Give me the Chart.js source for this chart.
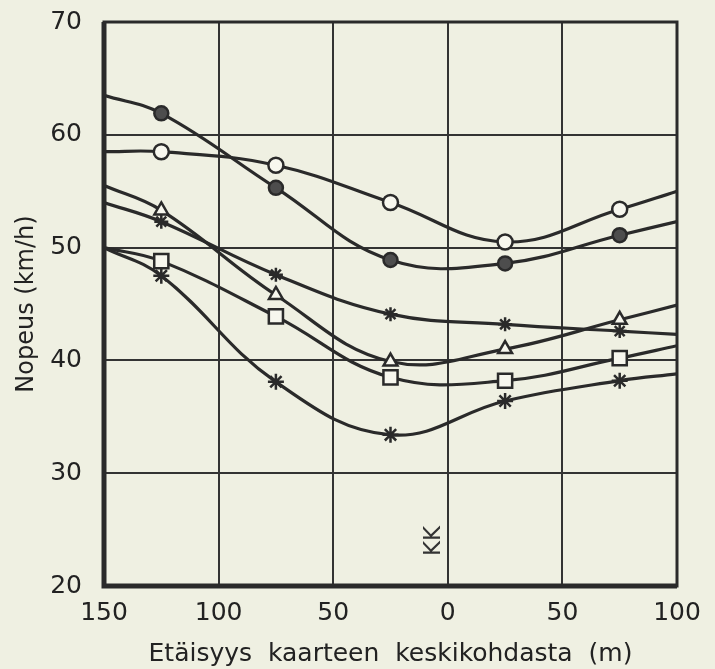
<!DOCTYPE html>
<html>
<head>
<meta charset="utf-8">
<script src="https://cdn.jsdelivr.net/npm/chart.js@4.4.1/dist/chart.umd.min.js"></script>
<style>
  html, body { margin: 0; padding: 0; background: #eff0e2; }
  #wrap { width: 715px; height: 669px; }
</style>
</head>
<body>
<div id="wrap"><canvas id="nopeus-canvas"></canvas></div>
<script>
// Nopeus kaarteen eri kohdissa — etäisyys kaarteen keskikohdasta (m)
// negatiivinen = ennen keskikohtaa, positiivinen = jälkeen

const distances = [-150, -125, -75, -25, 25, 75, 100];
const xTickValues = [-150, -100, -50, 0, 50, 100];
const xTickLabels = ['150', '100', '50', '0', '50', '100'];
const yTickValues = [20, 30, 40, 50, 60, 70];

// sarjat (ensimmäinen ja viimeinen arvo = viivan pää ilman merkkiä)
const filledCircle = [63.5, 61.9, 55.3, 48.9, 48.6, 51.1, 52.3];
const openCircle   = [58.5, 58.5, 57.3, 54.0, 50.5, 53.4, 55.0];
const triangle     = [55.5, 53.3, 45.8, 39.9, 41.0, 43.6, 44.9];
const upperStar    = [54.0, 52.3, 47.6, 44.1, 43.2, 42.6, 42.3];
const square       = [50.0, 48.8, 43.9, 38.5, 38.2, 40.2, 41.3];
const lowerStar    = [50.0, 47.5, 38.1, 33.4, 36.4, 38.2, 38.8];

const KK = { label: 'KK', x: -6, y: 24.0 };

const INK = '#2a2a2a';
const PAPER = '#eff0e2';

function _points(values) {
  return values.map((v, i) => ({ x: distances[i], y: v }));
}
function _radius(r) {
  return distances.map((d, i) => (i === 0 || i === distances.length - 1) ? 0 : r);
}
function _series(values, style, r, fill) {
  return {
    data: _points(values),
    borderColor: INK,
    borderWidth: 3.2,
    tension: 0.4,
    pointStyle: style,
    pointRadius: _radius(r),
    pointBorderWidth: 2.5,
    pointBorderColor: INK,
    pointBackgroundColor: fill
  };
}

// kehys ja KK-teksti
const framePlugin = {
  id: 'frame',
  afterDraw(chart) {
    const { ctx, chartArea: a, scales } = chart;
    ctx.save();
    ctx.strokeStyle = INK;
    ctx.lineWidth = 3;
    ctx.strokeRect(a.left, a.top, a.right - a.left, a.bottom - a.top);
    ctx.lineWidth = 5;
    ctx.beginPath();
    ctx.moveTo(a.left, a.top);
    ctx.lineTo(a.left, a.bottom);
    ctx.lineTo(a.right, a.bottom);
    ctx.stroke();
    const px = scales.x.getPixelForValue(KK.x);
    const py = scales.y.getPixelForValue(KK.y);
    ctx.translate(px, py);
    ctx.rotate(-Math.PI / 2);
    ctx.fillStyle = '#333';
    ctx.font = '23px "DejaVu Sans"';
    ctx.textAlign = 'center';
    ctx.textBaseline = 'middle';
    ctx.fillText(KK.label, 0, 0);
    ctx.restore();
  }
};

const bgPlugin = {
  id: 'bg',
  beforeDraw(chart) {
    const { ctx, width, height } = chart;
    ctx.save();
    ctx.fillStyle = PAPER;
    ctx.fillRect(0, 0, width, height);
    ctx.restore();
  }
};

new Chart(document.getElementById('nopeus-canvas'), {
  type: 'line',
  data: {
    datasets: [
      _series(filledCircle, 'circle', 7, '#4d4d4d'),
      _series(openCircle, 'circle', 7.5, '#f7f7ee'),
      _series(triangle, 'triangle', 8, '#f7f7ee'),
      _series(upperStar, 'star', 7, INK),
      _series(square, 'rect', 10, '#f7f7ee'),
      _series(lowerStar, 'star', 8, INK)
    ]
  },
  options: {
    responsive: true,
    maintainAspectRatio: false,
    animation: false,
    layout: { padding: { top: 22, right: 38, left: 0, bottom: 0 } },
    plugins: { legend: { display: false }, tooltip: { enabled: false } },
    scales: {
      x: {
        type: 'linear',
        min: -150, max: 100,
        afterFit: s => { s.height = 83; s.paddingLeft = 0; s.paddingRight = 0; },
        afterBuildTicks: s => { s.ticks = xTickValues.map(v => ({ value: v })); },
        grid: { color: '#333', lineWidth: 2, drawTicks: false },
        border: { display: false },
        ticks: {
          padding: 12,
          color: '#222',
          font: { family: 'DejaVu Sans', size: 25 },
          maxRotation: 0,
          callback: v => xTickLabels[xTickValues.indexOf(v)]
        },
        title: {
          display: true,
          text: 'Etäisyys  kaarteen  keskikohdasta  (m)',
          color: '#222',
          font: { family: 'DejaVu Sans', size: 25 },
          padding: { top: 0, bottom: 0 }
        }
      },
      y: {
        min: 20, max: 70,
        afterFit: s => { s.width = 104; s.paddingTop = 0; s.paddingBottom = 0; },
        afterBuildTicks: s => { s.ticks = yTickValues.map(v => ({ value: v })); },
        grid: { color: '#333', lineWidth: 2, drawTicks: false },
        border: { display: false },
        ticks: {
          padding: 22,
          color: '#222',
          font: { family: 'DejaVu Sans', size: 25 }
        },
        title: {
          display: true,
          text: 'Nopeus (km/h)',
          color: '#222',
          font: { family: 'DejaVu Sans', size: 24 },
          padding: { top: 12, bottom: 0 }
        }
      }
    }
  },
  plugins: [bgPlugin, framePlugin]
});
</script>
</body>
</html>
